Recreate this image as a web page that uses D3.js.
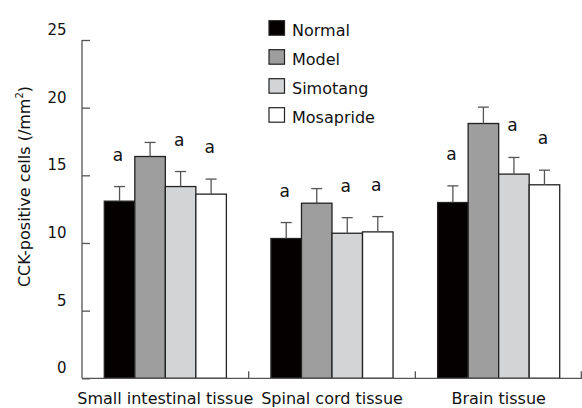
<!DOCTYPE html>
<html>
<head>
<meta charset="utf-8">
<script src="https://cdn.jsdelivr.net/npm/d3@7"></script>
<style>
html,body{margin:0;padding:0;background:#fff;}
svg{display:block;font-family:"DejaVu Sans",Verdana,sans-serif;}
</style>
</head>
<body>
<svg id="chart" width="582" height="408"></svg>
<script>
const categories = ["Small intestinal tissue", "Spinal cord tissue", "Brain tissue"];
const seriesNames = ["Normal", "Model", "Simotang", "Mosapride"];
const normalValues = [13.09, 10.33, 12.99];
const normalErrors = [1.08, 1.18, 1.23];
const modelValues = [16.39, 12.94, 18.83];
const modelErrors = [1.04, 1.08, 1.21];
const simotangValues = [14.17, 10.72, 15.09];
const simotangErrors = [1.11, 1.15, 1.23];
const mosaprideValues = [13.61, 10.82, 14.30];
const mosaprideErrors = [1.11, 1.13, 1.08];
const significance = [["a","a","a"], ["","",""], ["a","a","a"], ["a","a","a"]];
const yTicks = [0, 5, 10, 15, 20, 25];
const colors = ["#050000", "#9e9e9e", "#d3d4d6", "#ffffff"];

const values = [normalValues, modelValues, simotangValues, mosaprideValues];
const errors = [normalErrors, modelErrors, simotangErrors, mosaprideErrors];

const svg = d3.select("#chart");
const plotLeft = 82, plotRight = 582, plotTop = 40, plotBottom = 378.3;

const y = d3.scaleLinear().domain([0, 25]).range([plotBottom, plotTop]);
const x0 = d3.scaleBand().domain(categories).range([plotLeft, plotRight]).padding(0);
const x1 = d3.scaleBand().domain(seriesNames).range([0, x0.bandwidth()]).paddingInner(0).paddingOuter(0.73);

const data = [];
categories.forEach((c, ci) => {
  seriesNames.forEach((s, si) => {
    data.push({c, s, si, v: values[si][ci], e: errors[si][ci], mark: significance[si][ci]});
  });
});

// bars
svg.append("g").selectAll("rect").data(data).join("rect")
  .attr("x", d => x0(d.c) + x1(d.s))
  .attr("y", d => y(d.v))
  .attr("width", x1.bandwidth())
  .attr("height", d => y(0) - y(d.v))
  .attr("fill", d => colors[d.si])
  .attr("stroke", "#222")
  .attr("stroke-width", 1.3);

// error bars
const eg = svg.append("g").attr("stroke", "#555").attr("stroke-width", 1.3);
data.forEach(d => {
  const cx = x0(d.c) + x1(d.s) + x1.bandwidth() / 2;
  eg.append("line").attr("x1", cx).attr("x2", cx).attr("y1", y(d.v)).attr("y2", y(d.v + d.e));
  eg.append("line").attr("x1", cx - 5.5).attr("x2", cx + 5.5).attr("y1", y(d.v + d.e)).attr("y2", y(d.v + d.e));
});

// significance marks
svg.append("g").selectAll("text").data(data.filter(d => d.mark)).join("text")
  .attr("x", d => x0(d.c) + x1(d.s) + x1.bandwidth() / 2 - 1.5)
  .attr("y", d => y(d.v + d.e) - 26)
  .attr("text-anchor", "middle")
  .attr("font-size", 17)
  .attr("fill", "#111")
  .text(d => d.mark);

// y axis ticks (inward)
const yAxisTicks = svg.append("g").attr("transform", `translate(${plotLeft},0)`)
  .call(d3.axisRight(y).tickValues(yTicks).tickSize(8).tickFormat(""));
yAxisTicks.select(".domain").remove();
yAxisTicks.selectAll("line").attr("stroke", "#555").attr("stroke-width", 1.3);

// y axis labels
const yAxisLabels = svg.append("g").attr("transform", `translate(${plotLeft},0)`)
  .call(d3.axisLeft(y).tickValues(yTicks).tickSize(0).tickPadding(15.5));
yAxisLabels.select(".domain").remove();
yAxisLabels.selectAll("text")
  .attr("font-family", "DejaVu Sans, sans-serif")
  .attr("font-size", 15)
  .attr("fill", "#111")
  .attr("y", -11)
  .attr("dy", "0.36em");

// y axis line
svg.append("line").attr("x1", plotLeft).attr("x2", plotLeft).attr("y1", plotTop).attr("y2", plotBottom)
  .attr("stroke", "#555").attr("stroke-width", 1.3);

// x axis line
svg.append("line").attr("x1", plotLeft).attr("x2", plotRight).attr("y1", plotBottom).attr("y2", plotBottom)
  .attr("stroke", "#555").attr("stroke-width", 1.3);

// category boundary ticks
const boundaries = categories.map(c => x0(c) + x0.bandwidth());
svg.append("g").selectAll("line").data(boundaries).join("line")
  .attr("x1", d => Math.min(d, plotRight - 0.7)).attr("x2", d => Math.min(d, plotRight - 0.7))
  .attr("y1", plotBottom).attr("y2", plotBottom - 7)
  .attr("stroke", "#555").attr("stroke-width", 1.3);

// x labels
svg.append("g").selectAll("text").data(categories).join("text")
  .attr("x", d => x0(d) + x0.bandwidth() / 2)
  .attr("y", 403.5)
  .attr("text-anchor", "middle")
  .attr("font-size", 16)
  .attr("fill", "#111")
  .text(d => d);

// y title
const yt = svg.append("text")
  .attr("transform", "translate(29.5,186.5) rotate(-90)")
  .attr("text-anchor", "middle")
  .attr("font-size", 16)
  .attr("fill", "#111");
yt.append("tspan").text("CCK-positive cells (/mm");
yt.append("tspan").attr("font-size", 10).attr("dy", -7).text("2");
yt.append("tspan").attr("dy", 7).text(")");

// legend
const lg = svg.append("g");
seriesNames.forEach((s, i) => {
  const ty = 20.7 + i * 29;
  lg.append("rect").attr("x", 269).attr("y", ty).attr("width", 15.5).attr("height", 14.5)
    .attr("fill", colors[i]).attr("stroke", "#222").attr("stroke-width", 1.2);
  lg.append("text").attr("x", 292).attr("y", ty + 15).attr("font-size", 16).attr("fill", "#111").text(s);
});
</script>
</body>
</html>
